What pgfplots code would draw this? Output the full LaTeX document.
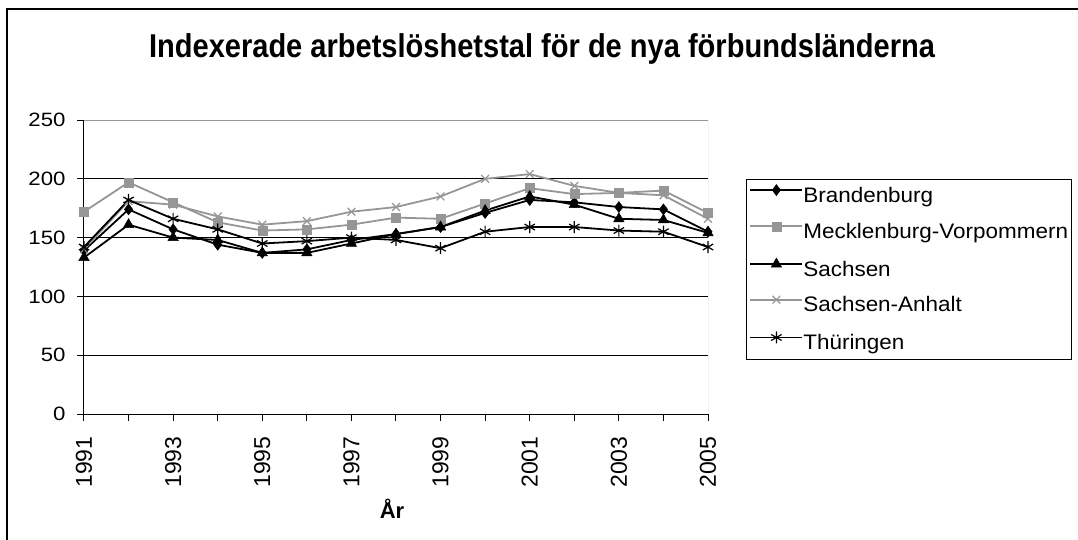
\documentclass[border=0pt]{standalone}
\usepackage{pgfplots}
\pgfplotsset{compat=1.18}
\usepackage{fontspec}
\setmainfont{Liberation Sans}
\newfontfamily\widefont{Liberation Sans}[FakeStretch=1.15]
\newfontfamily\legfont{Liberation Sans}[FakeStretch=1.07]
\newfontfamily\titlefont{Liberation Sans}[FakeStretch=0.88]
\definecolor{sgray}{RGB}{150,150,150}
\pgfplotstableread{
year Bran MV Sach SA Thu
1991 139 172 133 140 142
1992 174 197 161 181 182
1993 157 180 150 178 166
1994 144 163 148 168 157
1995 137 156 137 161 145
1996 140 157 137 164 147
1997 148 161 145 172 150
1998 153 167 153 176 148
1999 159 166 159 185 141
2000 171 179 173 200 155
2001 182 192 185 204 159
2002 180 187 178 194 159
2003 176 188 166 188 156
2004 174 190 165 186 155
2005 155 171 154 166 142
}\data
\begin{document}
\begin{tikzpicture}
\useasboundingbox (-84pt,-125pt) rectangle (994pt,414pt);
\draw[line width=1.5pt] (-77pt,-140pt) -- (-77pt,405pt) -- (1000pt,405pt);
\begin{axis}[
  at={(0pt,0pt)}, anchor=south west,
  scale only axis, width=624pt, height=294pt,
  xmin=1991, xmax=2005, ymin=0, ymax=250,
  xtick={1991,1993,...,2005}, minor xtick={1992,1994,...,2004},
  ytick={0,50,...,250},
  axis x line*=bottom, axis y line*=left,
  axis line style={black, line width=1pt},
  tick align=outside, major tick length=7pt, minor tick length=7pt,
  every tick/.style={black, line width=1pt},
  ymajorgrids, major grid style={black, line width=0.8pt},
  /pgf/number format/1000 sep={},
  /pgf/number format/assume math mode=true,
  yticklabel style={font=\widefont\fontsize{19.3}{23}\selectfont, xshift=-8pt},
  xticklabel style={font=\fontsize{23}{27}\selectfont, yshift=-12pt, rotate=90, anchor=east},
  title={\titlefont\fontsize{33}{38}\selectfont\bfseries Indexerade arbetslöshetstal för de nya förbundsländerna},
  title style={at={(0.734,1.1905)}, anchor=base, inner sep=0pt},
  xlabel={\fontsize{22}{26}\selectfont\bfseries År},
  xlabel style={at={(0.4936,-0.323)}, anchor=center},
  legend cell align=left,
  legend style={at={(1.0609,0.799)}, anchor=north west, draw=black, line width=1pt,
    font=\legfont\fontsize{21}{25}\selectfont, row sep=15pt, inner xsep=3pt, inner ysep=5pt,
    nodes={inner sep=0pt, text height=15pt, text depth=4.5pt}},
  legend image code/.code={\draw[mark repeat=2,mark phase=2] plot coordinates {(0pt,7pt) (26pt,7pt) (52pt,7pt)};},
  every axis plot/.append style={line width=1.8pt},
]
\addplot[black, mark=diamond*, mark size=5.5pt, mark options={solid, line width=0.5pt}] table[x=year,y=Bran] {\data};
\addplot[sgray, mark=square*, mark size=4.5pt, mark options={solid, line width=0.5pt}] table[x=year,y=MV] {\data};
\addplot[black, mark=triangle*, mark size=6pt, mark options={solid, line width=0.5pt}] table[x=year,y=Sach] {\data};
\addplot[sgray, mark=x, mark size=5.5pt, mark options={solid, line width=1.2pt}] table[x=year,y=SA] {\data};
\addplot[black, mark=asterisk, mark size=6pt, mark options={solid, line width=1.2pt}] table[x=year,y=Thu] {\data};
\legend{Brandenburg, Mecklenburg-Vorpommern, Sachsen, Sachsen-Anhalt, Thüringen}
\draw[sgray, line width=1pt] (rel axis cs:0,1) -- (rel axis cs:1,1) -- (rel axis cs:1,0);
\end{axis}
\end{tikzpicture}
\end{document}
